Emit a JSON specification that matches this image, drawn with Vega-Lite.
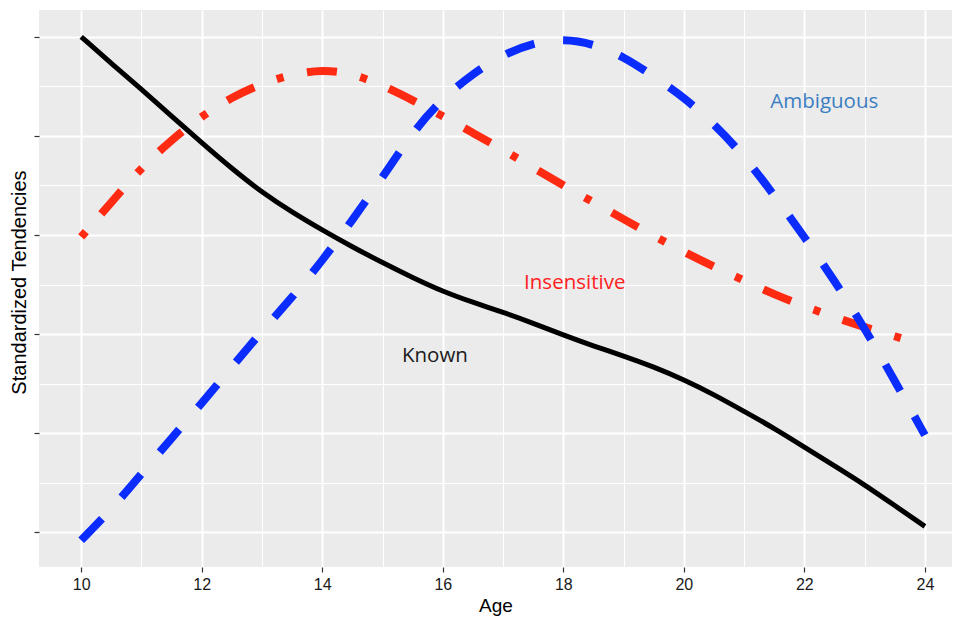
{
  "$schema": "https://vega.github.io/schema/vega-lite/v6.json",
  "width": 913,
  "height": 557,
  "autosize": {"type": "none"},
  "padding": {"left": 39, "top": 10, "right": 3, "bottom": 50},
  "background": "white",
  "config": {
    "view": {"fill": "#EBEBEB", "stroke": null},
    "axis": {
      "domain": false,
      "grid": true,
      "gridColor": "white",
      "tickColor": "#333333",
      "tickSize": 5,
      "tickWidth": 1.2,
      "labelFont": "Liberation Sans",
      "labelFontSize": 16,
      "labelColor": "#1a1a1a",
      "titleFont": "Liberation Sans",
      "titleFontSize": 19,
      "titleFontWeight": "normal",
      "titleColor": "black"
    }
  },
  "datasets": {
    "curves": [
      {"series": "Known", "age": 10, "value": 5.0},
      {"series": "Known", "age": 10.5, "value": 4.73},
      {"series": "Known", "age": 11, "value": 4.47},
      {"series": "Known", "age": 11.5, "value": 4.2},
      {"series": "Known", "age": 12, "value": 3.93},
      {"series": "Known", "age": 12.5, "value": 3.67},
      {"series": "Known", "age": 13, "value": 3.43},
      {"series": "Known", "age": 13.5, "value": 3.23},
      {"series": "Known", "age": 14, "value": 3.05},
      {"series": "Known", "age": 14.5, "value": 2.88},
      {"series": "Known", "age": 15, "value": 2.72},
      {"series": "Known", "age": 15.5, "value": 2.57},
      {"series": "Known", "age": 16, "value": 2.43},
      {"series": "Known", "age": 16.5, "value": 2.32},
      {"series": "Known", "age": 17, "value": 2.22},
      {"series": "Known", "age": 17.5, "value": 2.11},
      {"series": "Known", "age": 18, "value": 1.99},
      {"series": "Known", "age": 18.5, "value": 1.88},
      {"series": "Known", "age": 19, "value": 1.78},
      {"series": "Known", "age": 19.5, "value": 1.67},
      {"series": "Known", "age": 20, "value": 1.54},
      {"series": "Known", "age": 20.5, "value": 1.39},
      {"series": "Known", "age": 21, "value": 1.22},
      {"series": "Known", "age": 21.5, "value": 1.05},
      {"series": "Known", "age": 22, "value": 0.86},
      {"series": "Known", "age": 22.5, "value": 0.67},
      {"series": "Known", "age": 23, "value": 0.48},
      {"series": "Known", "age": 23.5, "value": 0.27},
      {"series": "Known", "age": 24, "value": 0.06},
      {"series": "Insensitive", "age": 10, "value": 2.98},
      {"series": "Insensitive", "age": 10.5, "value": 3.33},
      {"series": "Insensitive", "age": 11, "value": 3.68},
      {"series": "Insensitive", "age": 11.5, "value": 3.96},
      {"series": "Insensitive", "age": 12, "value": 4.2},
      {"series": "Insensitive", "age": 12.5, "value": 4.39},
      {"series": "Insensitive", "age": 13, "value": 4.53},
      {"series": "Insensitive", "age": 13.5, "value": 4.62},
      {"series": "Insensitive", "age": 14, "value": 4.67},
      {"series": "Insensitive", "age": 14.5, "value": 4.63},
      {"series": "Insensitive", "age": 15, "value": 4.51},
      {"series": "Insensitive", "age": 15.5, "value": 4.36},
      {"series": "Insensitive", "age": 16, "value": 4.2},
      {"series": "Insensitive", "age": 16.5, "value": 4.03},
      {"series": "Insensitive", "age": 17, "value": 3.86},
      {"series": "Insensitive", "age": 17.5, "value": 3.68},
      {"series": "Insensitive", "age": 18, "value": 3.5},
      {"series": "Insensitive", "age": 18.5, "value": 3.33},
      {"series": "Insensitive", "age": 19, "value": 3.16},
      {"series": "Insensitive", "age": 19.5, "value": 2.99},
      {"series": "Insensitive", "age": 20, "value": 2.83},
      {"series": "Insensitive", "age": 20.5, "value": 2.68},
      {"series": "Insensitive", "age": 21, "value": 2.54},
      {"series": "Insensitive", "age": 21.5, "value": 2.4},
      {"series": "Insensitive", "age": 22, "value": 2.28},
      {"series": "Insensitive", "age": 22.5, "value": 2.17},
      {"series": "Insensitive", "age": 23, "value": 2.07},
      {"series": "Insensitive", "age": 23.6, "value": 1.96},
      {"series": "Ambiguous", "age": 10, "value": -0.08},
      {"series": "Ambiguous", "age": 10.5, "value": 0.23},
      {"series": "Ambiguous", "age": 11, "value": 0.59},
      {"series": "Ambiguous", "age": 11.5, "value": 0.95},
      {"series": "Ambiguous", "age": 12, "value": 1.3},
      {"series": "Ambiguous", "age": 12.5, "value": 1.67},
      {"series": "Ambiguous", "age": 13, "value": 2.03},
      {"series": "Ambiguous", "age": 13.5, "value": 2.37},
      {"series": "Ambiguous", "age": 14, "value": 2.74},
      {"series": "Ambiguous", "age": 14.5, "value": 3.15},
      {"series": "Ambiguous", "age": 15, "value": 3.58},
      {"series": "Ambiguous", "age": 15.5, "value": 4.04},
      {"series": "Ambiguous", "age": 16, "value": 4.38},
      {"series": "Ambiguous", "age": 16.5, "value": 4.63},
      {"series": "Ambiguous", "age": 17, "value": 4.82},
      {"series": "Ambiguous", "age": 17.5, "value": 4.94},
      {"series": "Ambiguous", "age": 18, "value": 4.98},
      {"series": "Ambiguous", "age": 18.5, "value": 4.93},
      {"series": "Ambiguous", "age": 19, "value": 4.8},
      {"series": "Ambiguous", "age": 19.5, "value": 4.6},
      {"series": "Ambiguous", "age": 20, "value": 4.39},
      {"series": "Ambiguous", "age": 20.5, "value": 4.12},
      {"series": "Ambiguous", "age": 21, "value": 3.8},
      {"series": "Ambiguous", "age": 21.5, "value": 3.4},
      {"series": "Ambiguous", "age": 22, "value": 2.98},
      {"series": "Ambiguous", "age": 22.5, "value": 2.54},
      {"series": "Ambiguous", "age": 23, "value": 2.06},
      {"series": "Ambiguous", "age": 23.5, "value": 1.53},
      {"series": "Ambiguous", "age": 24, "value": 0.98}
    ],
    "labels": [
      {"label": "Known", "age": 15.87, "value": 1.78, "kind": "Known"},
      {"label": "Insensitive", "age": 18.19, "value": 2.52, "kind": "Insensitive"},
      {"label": "Ambiguous", "age": 22.33, "value": 4.34, "kind": "Ambiguous"}
    ]
  },
  "encoding": {
    "x": {
      "field": "age",
      "type": "quantitative",
      "scale": {"domain": [9.3, 24.45], "nice": false, "zero": false},
      "axis": {
        "title": "Age",
        "values": [10, 11, 12, 13, 14, 15, 16, 17, 18, 19, 20, 21, 22, 23, 24],
        "labelExpr": "datum.value % 2 === 0 ? datum.label : ''",
        "gridWidth": {"condition": {"test": "datum.value % 2 === 0", "value": 2}, "value": 1},
        "tickOpacity": {"condition": {"test": "datum.value % 2 === 0", "value": 1}, "value": 0},
        "labelPadding": 4,
        "titlePadding": 4
      }
    },
    "y": {
      "field": "value",
      "type": "quantitative",
      "scale": {"domain": [-0.35, 5.27], "nice": false, "zero": false},
      "axis": {
        "title": "Standardized Tendencies",
        "titleFontSize": 20,
        "values": [0, 0.5, 1, 1.5, 2, 2.5, 3, 3.5, 4, 4.5, 5],
        "labels": false,
        "gridWidth": {"condition": {"test": "datum.value % 1 === 0", "value": 2}, "value": 1},
        "tickOpacity": {"condition": {"test": "datum.value % 1 === 0", "value": 1}, "value": 0},
        "titlePadding": 4,
        "titleY": 272
      }
    }
  },
  "layer": [
    {
      "data": {"name": "curves"},
      "transform": [{"filter": "datum.series === 'Insensitive'"}],
      "mark": {"type": "line", "color": "#FF2A12", "strokeWidth": 8, "interpolate": "basis", "strokeDash": [30, 24, 7, 24], "strokeDashOffset": 54, "strokeCap": "butt"}
    },
    {
      "data": {"name": "curves"},
      "transform": [{"filter": "datum.series === 'Known'"}],
      "mark": {"type": "line", "color": "#000000", "strokeWidth": 5, "interpolate": "basis"}
    },
    {
      "data": {"name": "curves"},
      "transform": [{"filter": "datum.series === 'Ambiguous'"}],
      "mark": {"type": "line", "color": "#0A2CFF", "strokeWidth": 8, "interpolate": "basis", "strokeDash": [30, 29], "strokeCap": "butt"}
    },
    {
      "data": {"name": "labels"},
      "mark": {"type": "text", "font": "Open Sans", "fontSize": 20.5, "align": "center", "baseline": "middle"},
      "encoding": {
        "text": {"field": "label"},
        "color": {
          "field": "kind",
          "type": "nominal",
          "scale": {"domain": ["Known", "Insensitive", "Ambiguous"], "range": ["#1a1a1a", "#FF2020", "#3A7EC2"]},
          "legend": null
        }
      }
    }
  ]
}
